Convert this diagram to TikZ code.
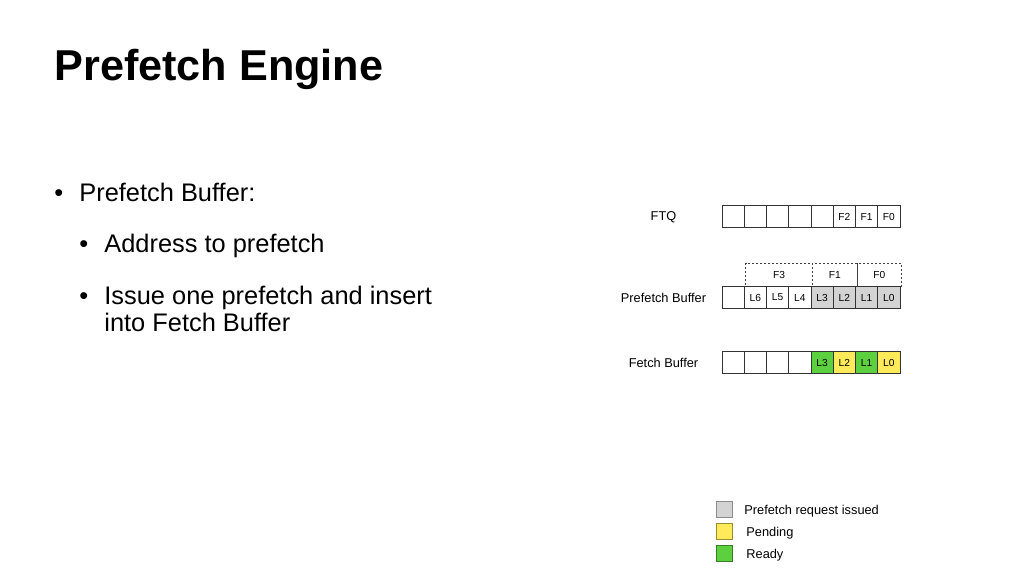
\documentclass[tikz,border=0pt]{standalone}
\usepackage{fontspec}
\setmainfont{Liberation Sans}
\usetikzlibrary{positioning}

\begin{document}
\begin{tikzpicture}[x=0.5pt,y=-0.5pt]
  % state colours
  \definecolor{issuedColor}{RGB}{211,211,211} % request issued
  \definecolor{pendColor}{RGB}{255,234,90}    % pending
  \definecolor{readyColor}{RGB}{92,208,62}    % ready

  % common styles
  \tikzset{
    cell/.style={
      draw=black!80,
      fill=white,
      line width=0.5pt,
      minimum width=11.125pt,
      minimum height=11pt,
      inner sep=0pt,
      font=\fontsize{5.1}{6}\selectfont
    },
    rowlabel/.style={font=\fontsize{6.4}{7}\selectfont, inner sep=0pt},
    grp/.style={
      draw=black!75,
      dash pattern=on 1pt off 1pt,
      line width=0.5pt,
      minimum height=11.5pt,
      inner sep=0pt,
      anchor=south west,
      font=\fontsize{5.1}{6}\selectfont
    },
    keybox/.style={draw, line width=0.5pt, minimum size=8pt, inner sep=0pt},
    keytext/.style={anchor=west, inner sep=0pt, font=\fontsize{6.4}{7}\selectfont},
    item/.style={anchor=base west, inner sep=0pt, font=\fontsize{12.7}{15}\selectfont}
  }
  \useasboundingbox (0,0) rectangle (1024,576);

  % title
  \node[anchor=base west, inner sep=0pt, font=\fontsize{21.6}{26}\selectfont\bfseries] (title) at (54,81) {Prefetch Engine};

  % bullet list
  \node[item] (dotA) at (54,202) {\textbullet};
  \node[item] (itemA) at (79,202) {Prefetch Buffer:};
  \node[item] (dotB) at (79,253) {\textbullet};
  \node[item] (itemB) at (104,253) {Address to prefetch};
  \node[item] (dotC) at (79,305) {\textbullet};
  \node[item] (itemC) at (104,305) {Issue one prefetch and insert};
  \node[item] (itemCc) at (104,332) {into Fetch Buffer};

  % row labels
  \node[rowlabel] (ftqlbl) at (663.5,217) {FTQ};
  \node[rowlabel] (pblbl) at (663.5,297.5) {Prefetch Buffer};
  \node[rowlabel] (fblbl) at (663.5,363) {Fetch Buffer};

  % FTQ
  \foreach \i/\t in {1/,2/,3/,4/,5/,6/F2,7/F1,8/F0}
    \node[cell] (ftq\i) at ({710.875+22.25*\i},217) {\t};

  % prefetch buffer, dashed groups first
  \node[grp, minimum width=33.375pt] (grpF3) at (745.25,287) {F3};
  \node[grp, minimum width=22.25pt] (grpF1) at (812,287) {F1};
  \node[grp, minimum width=22.25pt] (grpF0) at (856.5,287) {F0};
  \foreach \i/\t/\c in {1//white,2/L6/white,3/L5/white,4/L4/white,5/L3/issuedColor,6/L2/issuedColor,7/L1/issuedColor,8/L0/issuedColor}
    \node[cell, fill=\c] (pb\i) at ({710.875+22.25*\i},297.5) {\t};

  % fetch buffer
  \foreach \i/\t/\c in {1//white,2//white,3//white,4//white,5/L3/readyColor,6/L2/pendColor,7/L1/readyColor,8/L0/pendColor}
    \node[cell, fill=\c] (fb\i) at ({710.875+22.25*\i},363) {\t};

  % legend
  \node[keybox, fill=issuedColor, draw=black!45] (keyI) at (724,510) {};
  \node[keybox, fill=pendColor, draw=pendColor!60!black] (keyP) at (724,532) {};
  \node[keybox, fill=readyColor, draw=readyColor!60!black] (keyR) at (724,554) {};
  \node[keytext] (txtI) at (744,511) {Prefetch request issued};
  \node[keytext] (txtP) at (746,533) {Pending};
  \node[keytext] (txtR) at (746,555) {Ready};
\end{tikzpicture}
\end{document}
